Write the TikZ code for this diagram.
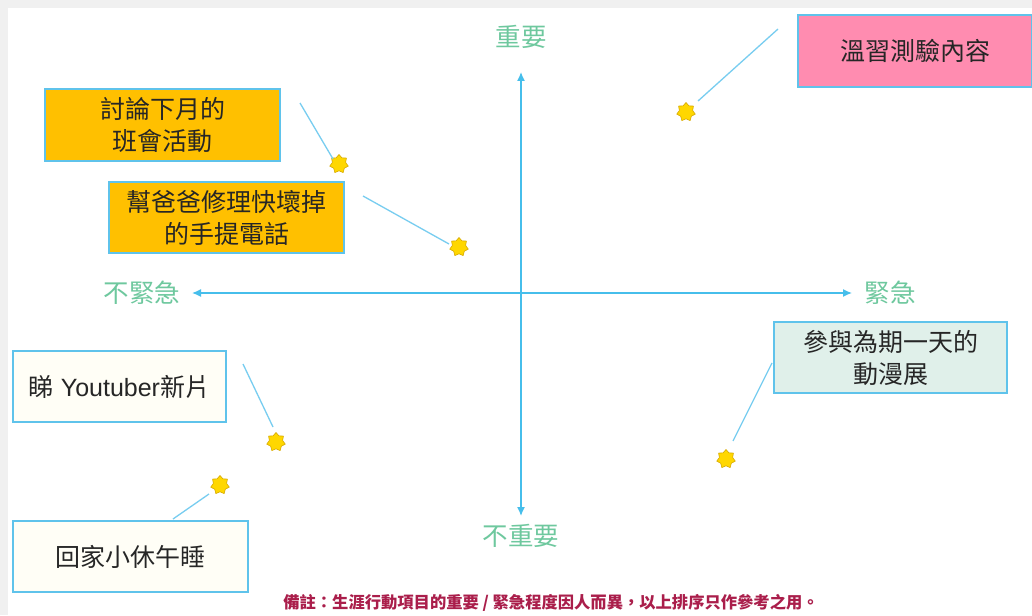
\documentclass[tikz,border=0pt]{standalone}
\usepackage{fontspec}
\setmainfont{Noto Sans CJK TC}[Script=CJK,Language=Chinese Traditional]
\newfontfamily\latinfont{Liberation Sans}
\usetikzlibrary{arrows.meta,shapes.geometric}
\definecolor{axisblue}{RGB}{70,190,235}
\definecolor{lineblue}{RGB}{120,205,240}
\definecolor{boxborder}{RGB}{95,195,235}
\definecolor{amber}{RGB}{255,192,0}
\definecolor{pinkbox}{RGB}{255,140,176}
\definecolor{mintbox}{RGB}{224,240,234}
\definecolor{ivory}{RGB}{255,254,246}
\definecolor{labelgreen}{RGB}{110,200,158}
\definecolor{notered}{RGB}{170,30,75}
\definecolor{starfill}{RGB}{255,215,0}
\definecolor{stardraw}{RGB}{215,170,0}
\definecolor{framegray}{RGB}{240,240,240}
\tikzset{
  taskbox/.style={draw=boxborder, line width=1.4pt, rectangle, inner sep=0pt,
    align=center, font=\fontsize{25}{32}\selectfont, text=black!85},
  axislabel/.style={font=\fontsize{25.5}{30}\selectfont, text=labelgreen, inner sep=0pt},
  axisline/.style={draw=axisblue, line width=1.4pt, {Latex[length=9pt,width=8pt]}-{Latex[length=9pt,width=8pt]}},
  conn/.style={draw=lineblue, line width=1.3pt},
  starmark/.style={star, star points=7, star point ratio=1.4, minimum size=19pt,
    inner sep=0pt, fill=starfill, draw=stardraw, line width=0.6pt}
}
\begin{document}
\begin{tikzpicture}[x=1pt,y=-1pt]
\useasboundingbox (0,0) rectangle (1032,615);
\fill[framegray] (0,0) rectangle (1032,615);
\fill[white] (8,8) rectangle (1032,615);

% axes
\node[axislabel] (imp) at (521,37) {重要};
\node[axislabel] (notimp) at (521,536) {不重要};
\node[axislabel] (noturg) at (142,293) {不緊急};
\node[axislabel] (urg) at (890,293) {緊急};
\coordinate (vtop) at (521,72);
\coordinate (vbot) at (521,516);
\coordinate (hleft) at (192,293);
\coordinate (hright) at (852,293);
\draw[axisline] (vbot) -- (vtop);
\draw[axisline] (hleft) -- (hright);

% boxes
\node[taskbox, fill=amber, minimum width=235pt, minimum height=72pt] (b1) at (162.5,125) {討論下月的\\班會活動};
\node[taskbox, fill=amber, minimum width=235pt, minimum height=71pt] (b2) at (226.5,217.5) {幫爸爸修理快壞掉\\的手提電話};
\node[taskbox, fill=pinkbox, minimum width=234pt, minimum height=72pt] (b3) at (915,51) {溫習測驗內容};
\node[taskbox, fill=mintbox, minimum width=233pt, minimum height=71pt] (b4) at (890.5,357.5) {參與為期一天的\\動漫展};
\node[taskbox, fill=ivory, minimum width=213pt, minimum height=71pt] (b5) at (119.5,386.5) {睇{\latinfont\ Youtuber}新片};
\node[taskbox, fill=ivory, minimum width=235pt, minimum height=71pt] (b6) at (130.5,556.5) {回家小休午睡};

% stars
\node[starmark] (s1) at (339,164) {};
\node[starmark] (s2) at (459,247) {};
\node[starmark] (s3) at (686,112) {};
\node[starmark] (s4) at (726,459) {};
\node[starmark] (s5) at (276,442) {};
\node[starmark] (s6) at (220,485) {};

% connector ends
\coordinate (c1a) at (300,103); \coordinate (c1b) at (333,159);
\coordinate (c2a) at (363,196); \coordinate (c2b) at (449,244);
\coordinate (c3a) at (778,29);  \coordinate (c3b) at (698,101);
\coordinate (c4a) at (772,363); \coordinate (c4b) at (733,441);
\coordinate (c5a) at (243,364); \coordinate (c5b) at (273,427);
\coordinate (c6a) at (173,519); \coordinate (c6b) at (209,494);
\draw[conn] (c1a) -- (c1b);
\draw[conn] (c2a) -- (c2b);
\draw[conn] (c3a) -- (c3b);
\draw[conn] (c4a) -- (c4b);
\draw[conn] (c5a) -- (c5b);
\draw[conn] (c6a) -- (c6b);

% note
\node[font=\fontsize{16.3}{19}\selectfont\bfseries, text=notered, inner sep=0pt] (note) at (551,603)
  {備註：生涯行動項目的重要 / 緊急程度因人而異，以上排序只作參考之用。};
\end{tikzpicture}
\end{document}
